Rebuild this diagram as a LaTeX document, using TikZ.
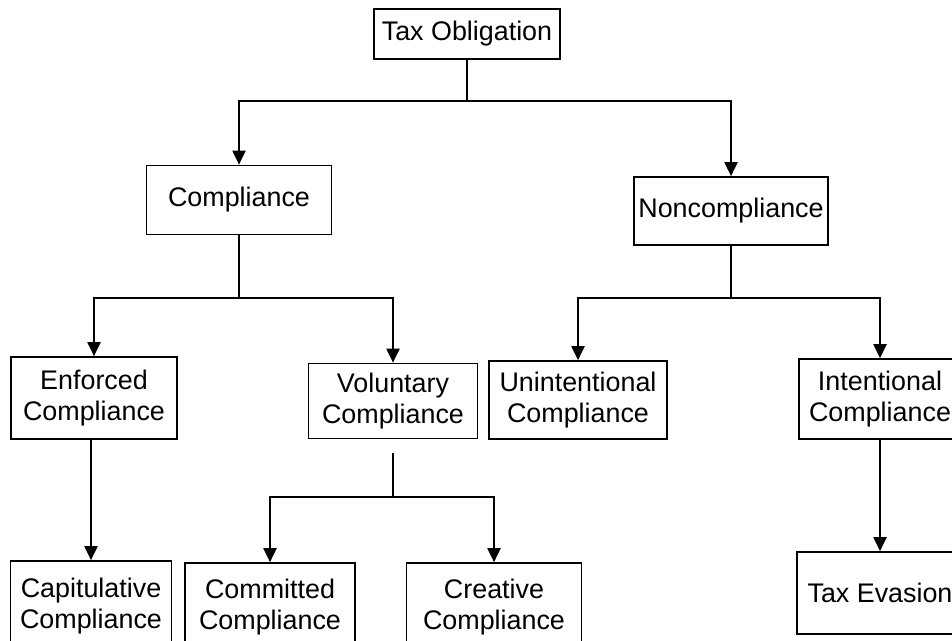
\documentclass[tikz,border=0pt]{standalone}
\usepackage{fontspec}
\setmainfont{Liberation Sans}
\usepackage{tikz}
\usetikzlibrary{arrows.meta,positioning}

\begin{document}
\begin{tikzpicture}[
        x=0.02cm, y=-0.02cm,
        box/.style={
          draw=black,
          line width=1pt,
          align=center,
          inner sep=0pt,
          font=\fontsize{15.3}{17.5}\selectfont
        },
        link/.style={line width=1pt, draw=black},
        arrow/.style={-{Triangle[length=8pt,width=7.5pt]}, line width=1pt, draw=black}
      ]
        \path[use as bounding box, clip] (0,0) rectangle (952,641);

        \node[box, minimum width=3.72cm, minimum height=1.0cm] (obligation) at (467,34) {Tax Obligation};

        \node[box, minimum width=3.7cm, minimum height=1.38cm] (compliance) at (239,200) {Compliance};
        \node[box, minimum width=3.88cm, minimum height=1.36cm] (noncompliance) at (731,211) {Noncompliance};

        \node[box, minimum width=3.32cm, minimum height=1.64cm] (enforced) at (94,398) {Enforced\\Compliance};
        \node[box, minimum width=3.38cm, minimum height=1.5cm] (voluntary) at (393,401) {Voluntary\\Compliance};
        \node[box, minimum width=3.56cm, minimum height=1.56cm] (unintentional) at (578,400) {Unintentional\\Compliance};
        \node[box, minimum width=3.24cm, minimum height=1.6cm] (intentional) at (880,399) {Intentional\\Compliance};

        \node[box, minimum width=3.22cm, minimum height=1.8cm] (capitulative) at (91,606) {Capitulative\\Compliance};
        \node[box, minimum width=3.4cm, minimum height=1.76cm] (committed) at (270,607) {Committed\\Compliance};
        \node[box, minimum width=3.5cm, minimum height=1.76cm] (creative) at (494,607) {Creative\\Compliance};
        \node[box, minimum width=3.32cm, minimum height=1.64cm] (evasion) at (880,593) {Tax Evasion};

        % first split
        \draw[link] (obligation.south) -- ++(0,41) coordinate (top);
        \draw[arrow] (top) -| (compliance.north);
        \draw[arrow] (top) -| (noncompliance.north);

        % compliance split
        \draw[link] (compliance.south) -- ++(0,63) coordinate (left);
        \draw[arrow] (left) -| (enforced.north);
        \draw[arrow] (left) -| (voluntary.north);

        % noncompliance split
        \draw[link] (noncompliance.south) -- ++(0,52) coordinate (right);
        \draw[arrow] (right) -| (unintentional.north);
        \draw[arrow] (right) -| (intentional.north);

        % voluntary split
        \draw[link, shorten <=8] (voluntary.south) -- ++(0,58) coordinate (mid);
        \draw[arrow] (mid) -| (committed.north);
        \draw[arrow] (mid) -| (creative.north);

        \draw[arrow] (capitulative.north |- enforced.south) -- (capitulative.north);
        \draw[arrow] (intentional.south) -- (evasion.north);
      \end{tikzpicture}
\end{document}
